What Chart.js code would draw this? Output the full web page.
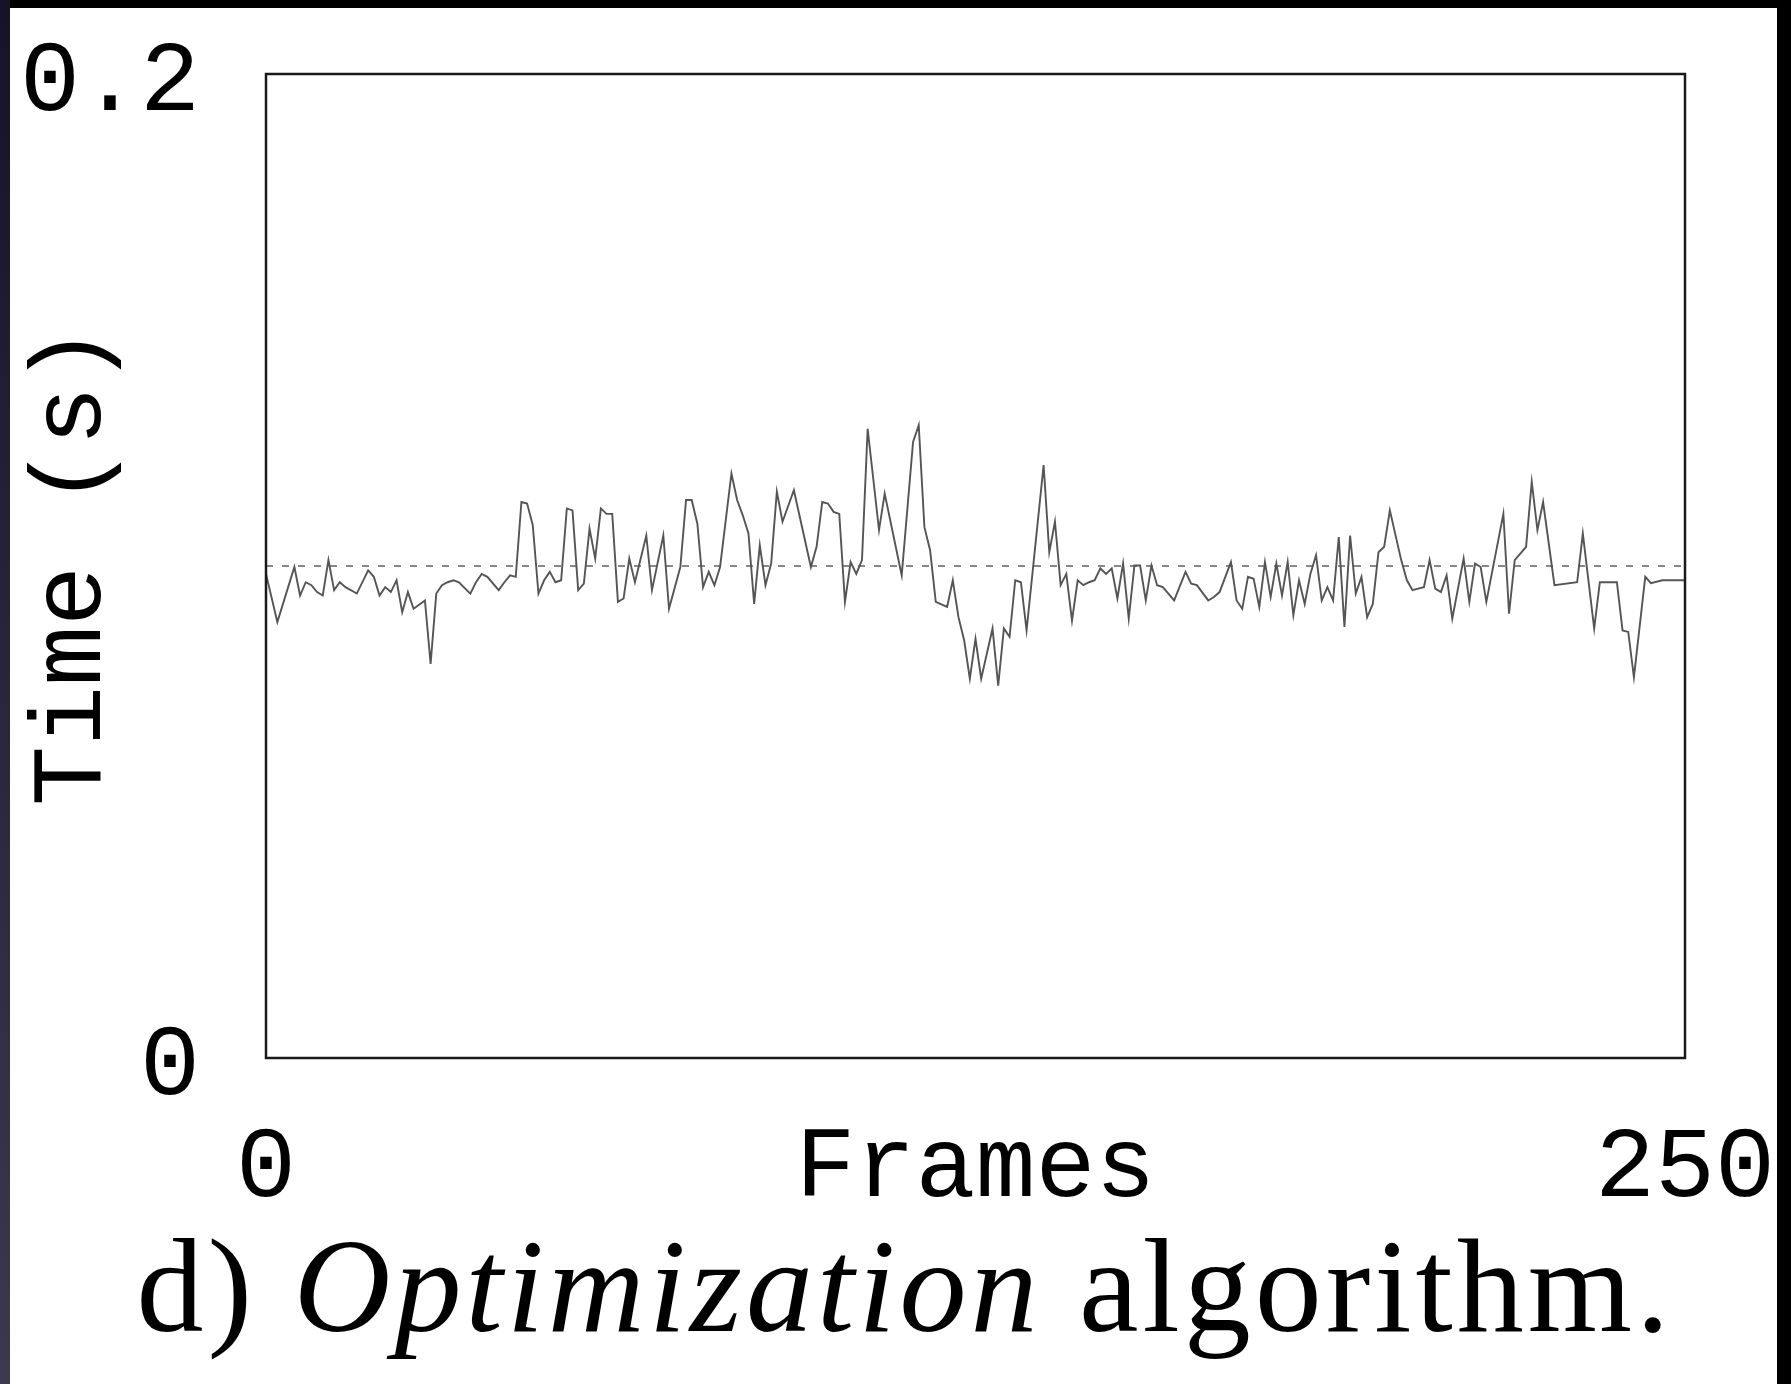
<!DOCTYPE html>
<html>
<head>
<meta charset="utf-8">
<script src="https://cdn.jsdelivr.net/npm/chart.js@4.4.1/dist/chart.umd.min.js"></script>
<style>
  html, body { margin: 0; padding: 0; width: 1791px; height: 1384px; overflow: hidden; background: #000; }
  #side { position: absolute; left: 0; top: 0; width: 10px; height: 1384px; background: linear-gradient(#141428, #3a3a4e); }
  #sheet { position: absolute; left: 10px; top: 8px; width: 1767px; height: 1376px; background: #fff; }
  #wrap { position: absolute; left: 0; top: 0; width: 1791px; height: 1230px; }
  #caption { position: absolute; left: 905px; top: 1219px; transform: translateX(-50%); white-space: nowrap;
             font-family: 'Liberation Serif', 'Times New Roman', serif; font-size: 134px; line-height: 134px;
             letter-spacing: 4px; color: #000; }
</style>
</head>
<body>
<div id="side"></div>
<div id="sheet"></div>
<div id="wrap"><canvas id="chart"></canvas></div>
<div id="caption">d) <i>Optimization</i> algorithm.</div>
<script>
// frame numbers of the visible vertices and the time (s) read at each
var frames = [
    0, 2, 5, 6, 7, 8, 9, 10, 11, 12, 13, 14, 16, 18, 19, 20, 21, 22, 23, 24, 25, 26, 28, 29, 30, 31,
    32, 33, 34, 36, 37, 38, 39, 41, 42, 43, 44, 45, 46, 47, 48, 49, 50, 51, 52, 53, 54, 55, 56, 57, 58, 59, 60, 61, 62, 63,
    64, 65, 67, 68, 70, 71, 73, 74, 75, 76, 77, 78, 79, 80, 82, 83, 84, 85, 86, 87, 88, 89, 90, 91, 93,
    96, 97, 98, 99, 100, 101, 102, 103, 104, 105, 106, 108, 109, 112, 114, 115, 116, 117, 118, 120, 121, 122, 123, 124, 125, 126,
    128, 129, 130, 131, 132, 133, 134, 137, 138, 139, 140, 141, 142, 143, 144, 145, 146, 147, 148, 149, 150, 151, 152, 153, 154, 155, 156, 157, 158,
    160, 162, 163, 164, 166, 167, 168, 170, 171, 172, 173, 174, 175, 176, 177, 178, 179, 180, 181, 182, 183, 184, 185, 186, 187, 188, 189, 190,
    191, 192, 193, 194, 195, 196, 197, 198, 200, 201, 202, 203, 204, 205, 206, 207, 208, 209, 211, 212, 213, 214, 215, 218, 219,
    220, 222, 223, 224, 225, 227, 231, 232, 234, 235, 238, 239, 240, 241, 243, 244, 246, 250
];
var times = [
    0.0984, 0.0886, 0.0998, 0.0940, 0.0967, 0.0961, 0.0947, 0.0940, 0.1012, 0.0951, 0.0967, 0.0957, 0.0944, 0.0991, 0.0978, 0.0940, 0.0957, 0.0947, 0.0971, 0.0906, 0.0947, 0.0913, 0.0930, 0.0801, 0.0944, 0.0961,
    0.0967, 0.0971, 0.0967, 0.0944, 0.0967, 0.0984, 0.0978, 0.0951, 0.0967, 0.0981, 0.0978, 0.1130, 0.1127, 0.1083, 0.0944, 0.0971, 0.0988, 0.0967, 0.0971, 0.1117, 0.1113, 0.0951, 0.0964, 0.1076, 0.1015, 0.1117, 0.1106, 0.1106, 0.0927, 0.0934,
    0.1015, 0.0967, 0.1062, 0.0951, 0.1062, 0.0913, 0.0998, 0.1134, 0.1134, 0.1086, 0.0957, 0.0988, 0.0961, 0.0998, 0.1188, 0.1134, 0.1103, 0.1066, 0.0923, 0.1042, 0.0961, 0.1005, 0.1151, 0.1090, 0.1154,
    0.0998, 0.1039, 0.1130, 0.1127, 0.1110, 0.1106, 0.0927, 0.1008, 0.0984, 0.1012, 0.1279, 0.1073, 0.1147, 0.0981, 0.1252, 0.1286, 0.1079, 0.1032, 0.0927, 0.0917, 0.0971, 0.0896, 0.0849, 0.0771, 0.0852, 0.0771,
    0.0873, 0.0757, 0.0873, 0.0856, 0.0971, 0.0967, 0.0869, 0.1205, 0.1028, 0.1090, 0.0961, 0.0984, 0.0889, 0.0971, 0.0961, 0.0967, 0.0971, 0.0995, 0.0984, 0.0995, 0.0934, 0.1005, 0.0893, 0.1001, 0.1001, 0.0930, 0.1001, 0.0961, 0.0957,
    0.0930, 0.0988, 0.0964, 0.0961, 0.0930, 0.0937, 0.0947, 0.1008, 0.0930, 0.0913, 0.0978, 0.0974, 0.0917, 0.1008, 0.0937, 0.1005, 0.0940, 0.1008, 0.0900, 0.0971, 0.0923, 0.0984, 0.1022, 0.0930, 0.0957, 0.0930, 0.1059, 0.0876,
    0.1062, 0.0944, 0.0978, 0.0896, 0.0923, 0.1028, 0.1039, 0.1113, 0.1012, 0.0971, 0.0951, 0.0954, 0.0957, 0.1012, 0.0954, 0.0947, 0.0981, 0.0893, 0.1015, 0.0927, 0.1005, 0.0998, 0.0927, 0.1106, 0.0903,
    0.1012, 0.1039, 0.1171, 0.1073, 0.1130, 0.0961, 0.0967, 0.1066, 0.0873, 0.0967, 0.0967, 0.0869, 0.0866, 0.0774, 0.0978, 0.0965, 0.0971, 0.0971
];
// dotted reference level
var targetFrames = [0, 250];
var targetTime = 0.1;

var xTickValues = [0, 250];
var xTickLabels = ['0', '250'];
var yTickValues = [0, 0.2];
var yTickLabels = ['0', '0.2'];

var monoFont = "'Liberation Mono', 'Courier New', monospace";

// box round the plot area
var framePlugin = {
    id: 'frame',
    afterDatasetsDraw: function(chart) {
        var a = chart.chartArea, ctx = chart.ctx;
        ctx.save();
        ctx.strokeStyle = '#1a1a1a';
        ctx.lineWidth = 2.5;
        ctx.strokeRect(a.left, a.top, a.right - a.left, a.bottom - a.top);
        ctx.restore();
    }
};

var chart = new Chart(document.getElementById('chart'), {
    type: 'line',
    data: {
        datasets: [{
            data: frames.map(function(f, i) { return {x: f, y: times[i]}; }),
            borderColor: '#555',
            borderWidth: 1.9,
            pointRadius: 0,
            tension: 0,
            fill: false
        }, {
            data: targetFrames.map(function(f) { return {x: f, y: targetTime}; }),
            borderColor: '#888',
            borderWidth: 2,
            borderDash: [7, 9],
            pointRadius: 0,
            fill: false
        }]
    },
    options: {
        responsive: true,
        maintainAspectRatio: false,
        animation: false,
        layout: { padding: { top: 74, right: 106, bottom: 0, left: 0 } },
        plugins: { legend: { display: false }, tooltip: { enabled: false } },
        scales: {
            x: {
                type: 'linear',
                min: 0,
                max: 250,
                grid: { display: false, drawTicks: false },
                border: { display: false },
                afterBuildTicks: function(axis) { axis.ticks = xTickValues.map(function(v) { return {value: v}; }); },
                afterFit: function(axis) {
                    axis.height = 172;
                    axis.paddingLeft = 0;
                    axis.paddingRight = 0;
                },
                ticks: {
                    autoSkip: false,
                    maxRotation: 0,
                    padding: 52,
                    color: '#000',
                    font: { family: monoFont, size: 100 },
                    callback: function(v) { return xTickLabels[xTickValues.indexOf(v)]; }
                },
                title: {
                    display: true,
                    text: 'Frames',
                    color: '#000',
                    font: { family: monoFont, size: 100 },
                    padding: { top: 0, bottom: 0 }
                }
            },
            y: {
                type: 'linear',
                min: 0,
                max: 0.2,
                grid: { display: false, drawTicks: false },
                border: { display: false },
                afterBuildTicks: function(axis) { axis.ticks = yTickValues.map(function(v) { return {value: v}; }); },
                afterFit: function(axis) {
                    axis.width = 266;
                    axis.paddingTop = 0;
                    axis.paddingBottom = 0;
                },
                ticks: {
                    autoSkip: false,
                    padding: 66,
                    labelOffset: 10,
                    color: '#000',
                    font: { family: monoFont, size: 100 },
                    callback: function(v) { return yTickLabels[yTickValues.indexOf(v)]; }
                },
                title: {
                    display: true,
                    text: 'Time (s)',
                    color: '#000',
                    font: { family: monoFont, size: 100 },
                    padding: { top: 14, bottom: 0 }
                }
            }
        }
    },
    plugins: [framePlugin]
});
</script>
</body>
</html>
